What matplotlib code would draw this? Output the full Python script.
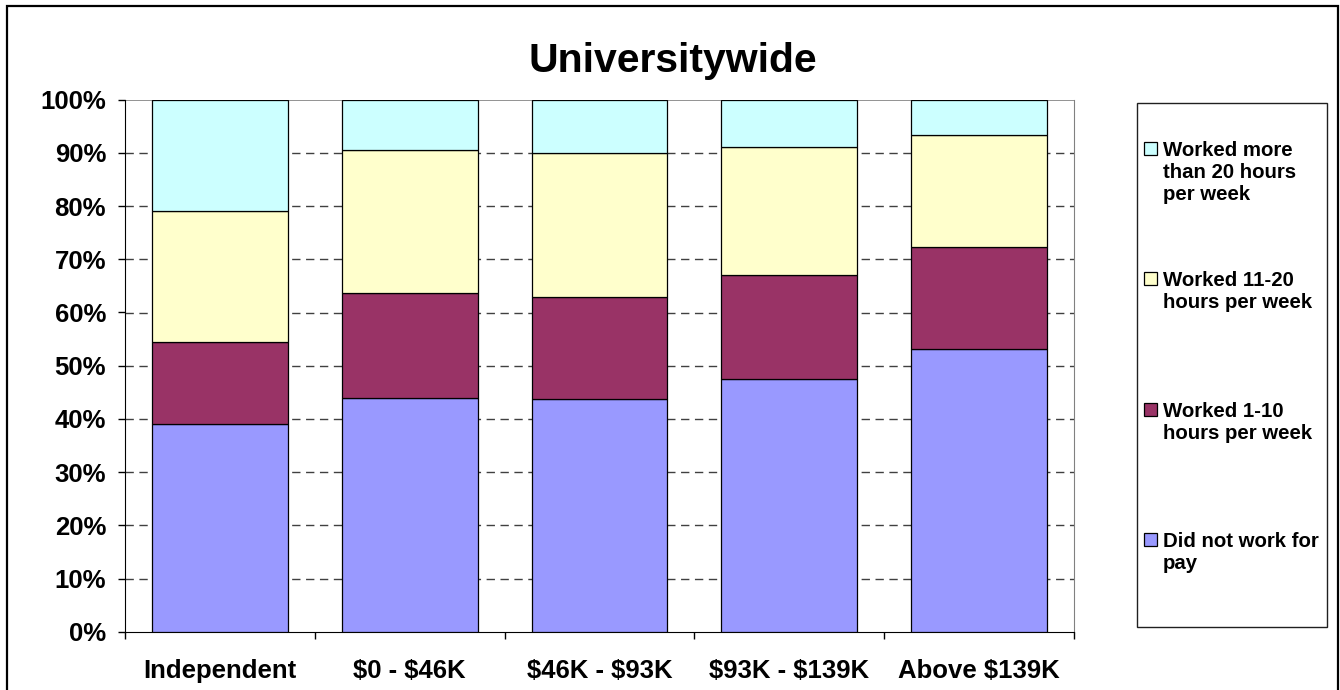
import matplotlib.pyplot as plt
from matplotlib.patches import Rectangle
import numpy as np

plt.rcParams['font.family'] = ['Liberation Sans', 'DejaVu Sans']
plt.rcParams['font.weight'] = 'bold'
plt.rcParams['text.parse_math'] = False  # keep the $ signs literal

categories = ['Independent', '$0 - $46K', '$46K - $93K', '$93K - $139K', 'Above $139K']
did_not_work = [39.1, 43.9, 43.7, 47.5, 53.2]
worked_1_10 = [15.3, 19.7, 19.3, 19.5, 19.2]
worked_11_20 = [24.7, 26.9, 27.0, 24.1, 20.9]
worked_20_plus = [20.9, 9.5, 10.0, 8.9, 6.7]
series_labels = ['Did not work for\npay', 'Worked 1-10\nhours per week',
                 'Worked 11-20\nhours per week', 'Worked more\nthan 20 hours\nper week']
colors = ['#9999FF', '#993366', '#FFFFCC', '#CCFFFF']

W, H = 1340, 690
fig = plt.figure(figsize=(W / 100, H / 100), dpi=100)

def fx(px):
    return px / W

def fy(py):
    return 1 - py / H

ax = fig.add_axes([fx(125), fy(631.7), fx(1074) - fx(125), fy(99.7) - fy(631.7)])

x = np.arange(len(categories))
series = [did_not_work, worked_1_10, worked_11_20, worked_20_plus]
bottom = np.zeros(len(categories))
for vals, c in zip(series, colors):
    vals = np.array(vals) / 100
    ax.bar(x, vals, 0.715, bottom=bottom, color=c, edgecolor='black', linewidth=0.9, zorder=3)
    bottom += vals

ax.set_xlim(-0.5, 4.5)
ax.set_ylim(0, 1)

# gridlines (dashed), top line solid gray
for yv in np.arange(0.1, 1.0, 0.1):
    ax.axhline(yv, color='#404040', linewidth=1, dashes=(6, 4), zorder=1)
ax.axhline(1.0, color='#808080', linewidth=1.2, zorder=2)

ax.spines['top'].set_visible(False)
ax.spines['right'].set_color('#808080')
ax.spines['left'].set_color('black')
ax.spines['bottom'].set_color('black')

ax.set_yticks(np.arange(0, 1.01, 0.1))
ax.set_yticklabels([f'{int(round(v * 100))}%' for v in np.arange(0, 1.01, 0.1)])
ax.tick_params(axis='y', length=5, width=1, pad=8.6, labelsize=18.5, direction='out')

ax.set_xticks(x)
ax.set_xticklabels(categories)
ax.set_xticks(np.arange(-0.5, 4.6, 1), minor=True)
ax.tick_params(axis='x', which='major', length=0, pad=20, labelsize=18.5)
ax.tick_params(axis='x', which='minor', length=5, width=1, direction='out')
for lbl in ax.get_xticklabels() + ax.get_yticklabels():
    lbl.set_fontweight('bold')

fig.text(fx(673), fy(72), 'Universitywide', ha='center', va='baseline',
         fontsize=29.5, fontweight='bold')

# legend box and entries
fig.add_artist(Rectangle((fx(1137), fy(627)), fx(1327) - fx(1137), fy(103) - fy(627),
                         transform=fig.transFigure, facecolor='white',
                         edgecolor='#202020', linewidth=1))
cap_tops = [533, 402.7, 271.7, 141.7]
for lab, c, top in zip(series_labels, colors, cap_tops):
    fig.add_artist(Rectangle((fx(1144), fy(top + 13)), fx(13), 13 / H,
                             transform=fig.transFigure, facecolor=c,
                             edgecolor='black', linewidth=0.9))
    fig.text(fx(1163), fy(top - 1), lab, ha='left', va='top', fontsize=14.7,
             fontweight='bold', linespacing=1.22)

# outer chart border
fig.add_artist(Rectangle((fx(7), -0.05), fx(1338) - fx(7), fy(6) + 0.05,
                         transform=fig.transFigure, facecolor='none',
                         edgecolor='black', linewidth=1.6))

fig.savefig('out.png', dpi=100)
